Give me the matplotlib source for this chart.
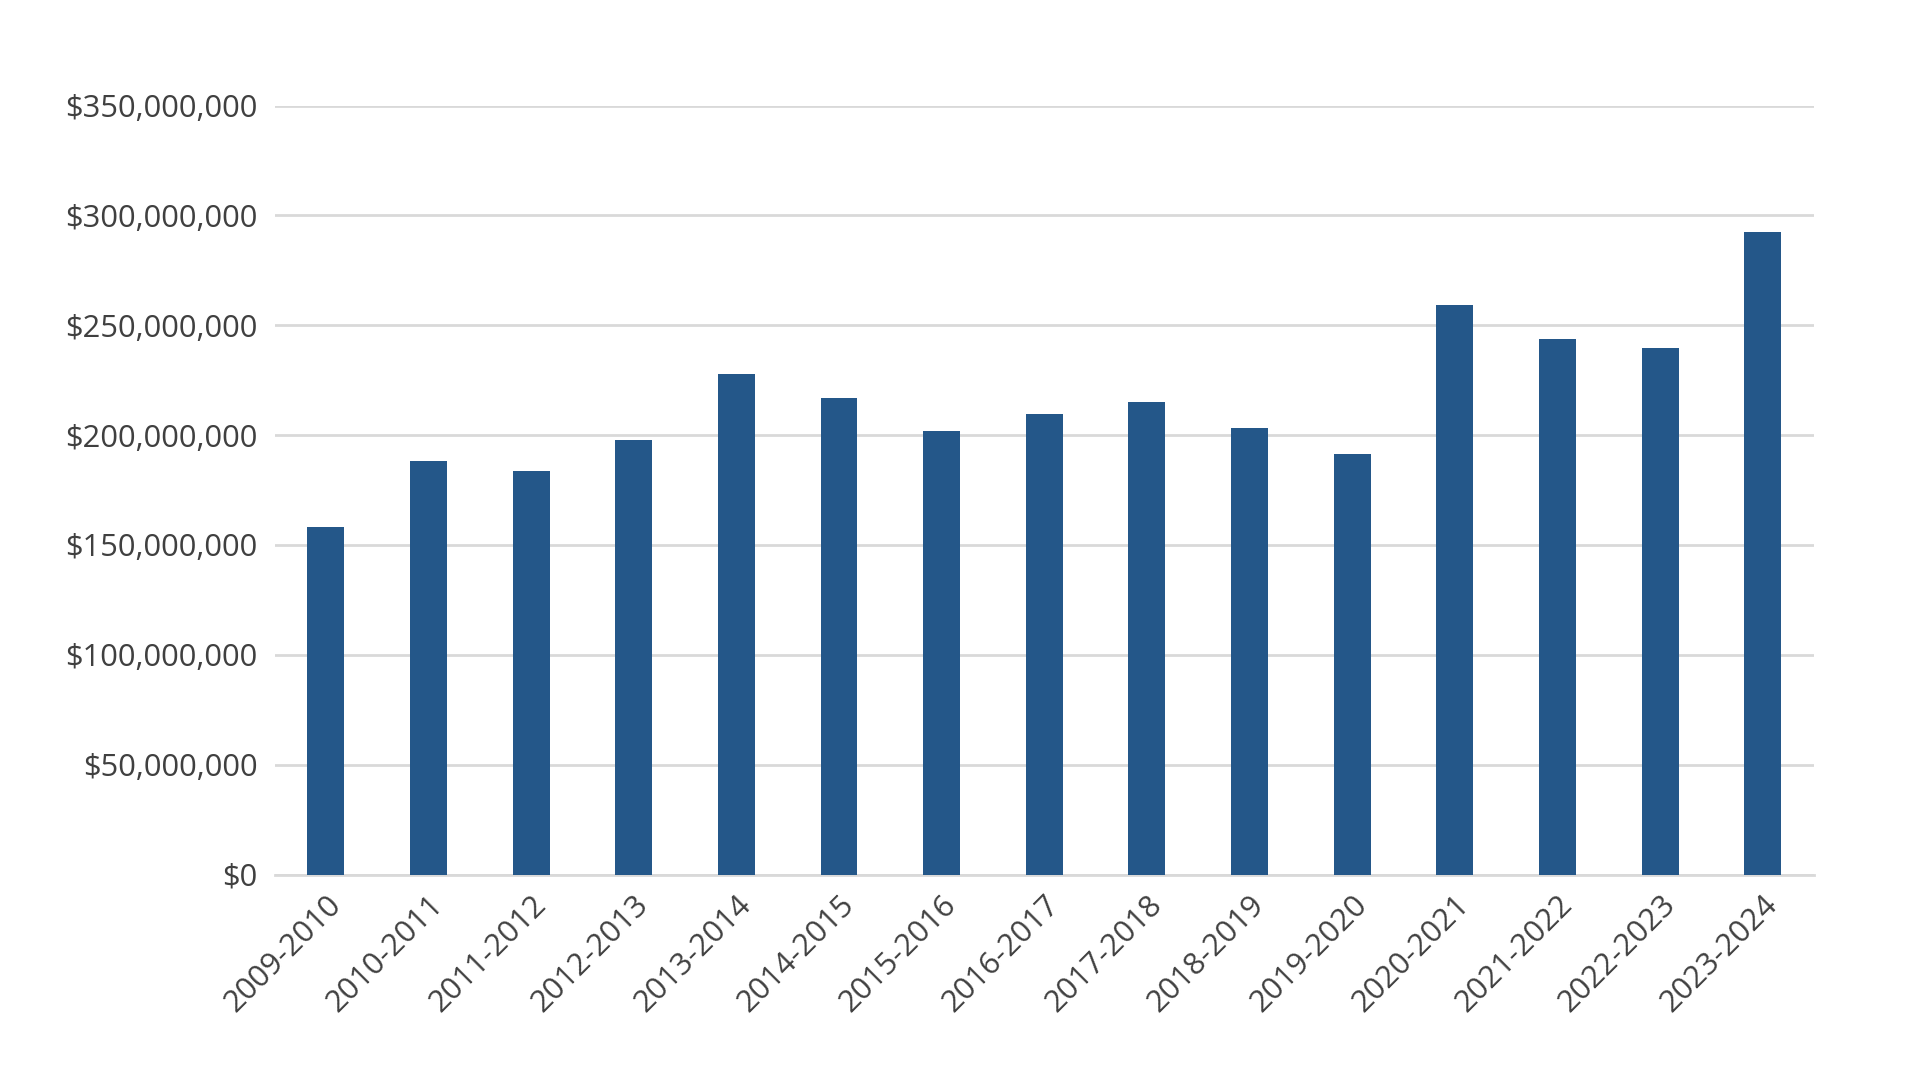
import matplotlib
matplotlib.use("Agg")
import matplotlib.pyplot as plt
from matplotlib.ticker import FuncFormatter, MultipleLocator

categories = ["2009-2010", "2010-2011", "2011-2012", "2012-2013", "2013-2014",
              "2014-2015", "2015-2016", "2016-2017", "2017-2018", "2018-2019",
              "2019-2020", "2020-2021", "2021-2022", "2022-2023", "2023-2024"]
values = [158.3e6, 188.2e6, 183.5e6, 197.6e6, 227.7e6,
          216.8e6, 201.7e6, 209.5e6, 215.1e6, 203.2e6,
          191.4e6, 259.2e6, 243.5e6, 239.6e6, 292.4e6]

plt.rcParams['font.family'] = ['Open Sans', 'DejaVu Sans']
text_color = '#404040'

fig = plt.figure(figsize=(19.2, 10.8), dpi=100)
left_px, right_px, top_px, zero_px = 274.5, 1814, 105.5, 874.5
ax = fig.add_axes([left_px / 1920, 1 - zero_px / 1080,
                   (right_px - left_px) / 1920, (zero_px - top_px) / 1080])

x = range(len(categories))
ax.bar(x, values, width=0.36, color='#245789', zorder=3)

ax.set_xlim(-0.5, len(categories) - 0.5)
ax.set_ylim(0, 350e6)
ax.yaxis.set_major_locator(MultipleLocator(50e6))
ax.yaxis.set_major_formatter(FuncFormatter(lambda v, p: f"${v:,.0f}"))
ax.grid(axis='y', color='#d9d9d9', linewidth=2, zorder=0)
ax.set_axisbelow(True)

for s in ['top', 'right', 'left']:
    ax.spines[s].set_visible(False)
ax.spines['bottom'].set_color('#d9d9d9')
ax.spines['bottom'].set_linewidth(2)

ax.set_xticks(list(x))
ax.set_xticklabels(categories, rotation=45, ha='right', rotation_mode='anchor')
ax.tick_params(axis='x', length=0, pad=11, labelsize=22.2, labelcolor=text_color)
ax.tick_params(axis='y', length=0, pad=12, labelsize=22.2, labelcolor=text_color)

fig.savefig('out.png', dpi=100)
